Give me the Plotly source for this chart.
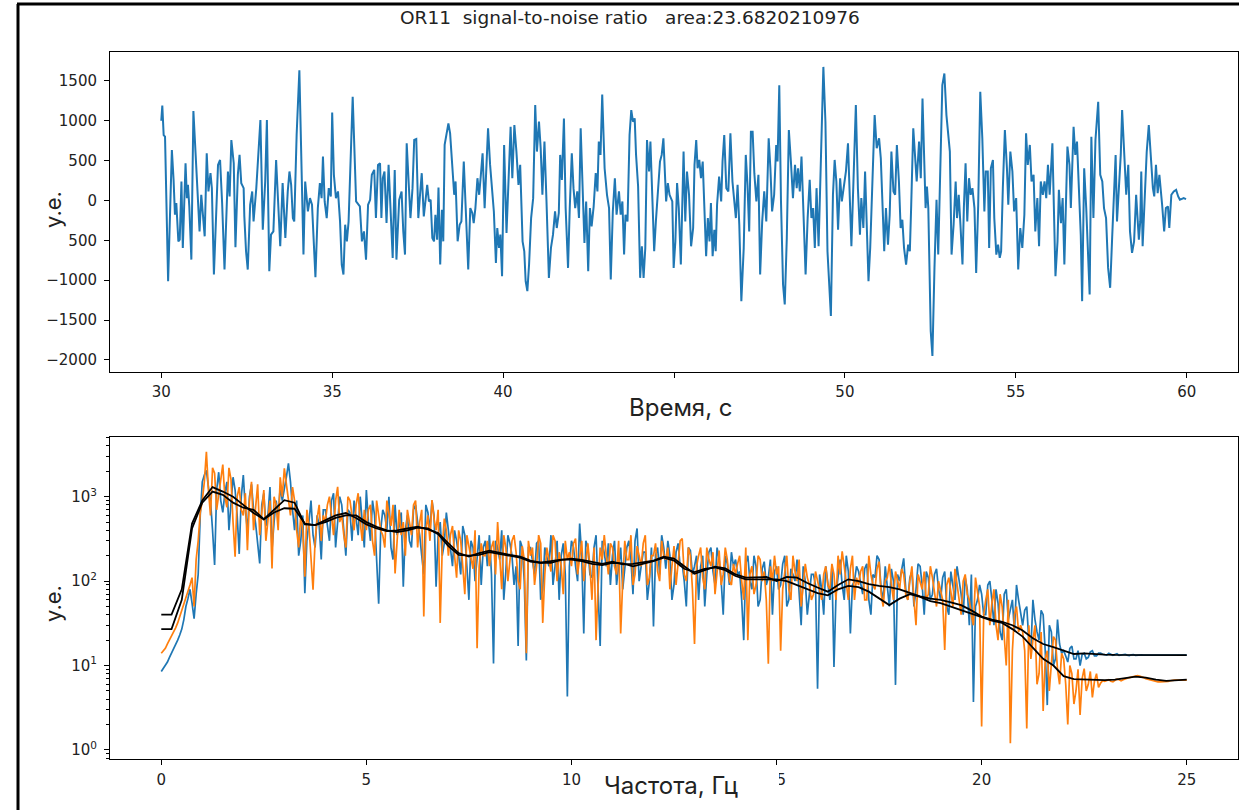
import plotly.graph_objects as go

# ---------------- data: time signal (seconds, units) ----------------
t_sec = [
30.00,30.03,30.07,30.11,30.20,30.31,30.36,30.40,30.44,30.50,30.54,30.59,30.63,30.71,30.75,30.78,30.82,30.88,30.94,31.02,
31.07,31.12,31.17,31.22,31.27,31.33,31.38,31.44,31.48,31.54,31.66,31.72,31.78,31.85,31.95,32.00,32.05,32.12,32.17,32.24,
32.29,32.34,32.41,32.43,32.48,32.53,32.60,32.66,32.70,32.78,32.82,32.90,32.97,33.04,33.09,33.16,33.21,33.28,33.36,33.42,
33.48,33.55,33.63,33.70,33.75,33.80,33.85,33.89,33.96,34.04,34.10,34.16,34.21,34.26,34.29,34.35,34.41,34.51,34.58,34.64,
34.69,34.73,34.78,34.84,34.90,34.96,35.00,35.05,35.11,35.17,35.23,35.28,35.33,35.38,35.43,35.48,35.60,35.70,35.81,35.87,
35.93,35.99,36.05,36.11,36.16,36.23,36.28,36.34,36.40,36.44,36.48,36.53,36.59,36.65,36.71,36.77,36.83,36.88,36.96,37.03,
37.08,37.13,37.18,37.25,37.29,37.35,37.40,37.46,37.52,37.57,37.62,37.68,37.73,37.78,37.83,37.88,37.93,37.98,38.02,38.07,
38.11,38.16,38.21,38.25,38.29,38.35,38.40,38.45,38.51,38.57,38.61,38.67,38.73,38.78,38.85,38.90,38.93,38.98,39.04,39.10,
39.14,39.19,39.25,39.30,39.35,39.40,39.46,39.51,39.56,39.62,39.67,39.73,39.79,39.83,39.88,39.92,39.97,40.03,40.10,40.16,
40.22,40.27,40.33,40.39,40.45,40.50,40.57,40.62,40.66,40.71,40.76,40.82,40.88,40.94,40.99,41.05,41.10,41.15,41.21,41.27,
41.34,41.40,41.46,41.52,41.57,41.63,41.67,41.72,41.78,41.83,41.90,41.95,42.01,42.06,42.11,42.17,42.22,42.27,42.33,42.38,
42.43,42.49,42.54,42.59,42.65,42.71,42.76,42.80,42.85,42.90,42.97,43.04,43.10,43.15,43.21,43.27,43.32,43.39,43.44,43.49,
43.54,43.58,43.64,43.70,43.75,43.80,43.85,43.89,43.95,44.01,44.06,44.11,44.16,44.21,44.27,44.31,44.37,44.42,44.47,44.53,
44.59,44.64,44.69,44.77,44.82,44.87,44.91,44.95,44.99,45.04,45.09,45.14,45.20,45.25,45.28,45.33,45.38,45.44,45.50,45.56,
45.60,45.65,45.69,45.74,45.79,45.84,45.88,45.94,45.99,46.04,46.08,46.13,46.18,46.22,46.26,46.32,46.38,46.42,46.47,46.53,
46.59,46.65,46.71,46.76,46.81,46.86,46.91,46.97,47.04,47.10,47.15,47.20,47.25,47.30,47.35,47.41,47.47,47.52,47.58,47.64,
47.70,47.77,47.82,47.87,47.93,47.99,48.03,48.08,48.13,48.19,48.24,48.30,48.36,48.42,48.48,48.54,48.59,48.63,48.68,48.73,
48.79,48.85,48.91,48.97,49.02,49.07,49.12,49.17,49.23,49.28,49.33,49.37,49.43,49.49,49.59,49.65,49.70,49.75,49.80,49.86,
49.91,49.98,50.03,50.09,50.14,50.19,50.25,50.32,50.38,50.44,50.48,50.54,50.59,50.64,50.69,50.74,50.81,50.87,50.93,51.00,
51.05,51.10,51.15,51.20,51.26,51.31,51.36,51.42,51.47,51.52,51.58,51.63,51.68,51.73,51.79,51.85,51.90,51.94,52.00,52.05,
52.10,52.17,52.22,52.27,52.32,52.36,52.40,52.44,52.51,52.56,52.62,52.68,52.73,52.79,52.85,52.91,52.97,53.07,53.12,53.18,
53.24,53.28,53.33,53.38,53.44,53.48,53.53,53.58,53.63,53.68,53.73,53.79,53.84,53.90,53.96,54.02,54.08,54.12,54.18,54.22,
54.27,54.33,54.37,54.43,54.48,54.53,54.57,54.62,54.68,54.74,54.78,54.84,54.90,54.95,55.01,55.07,55.13,55.19,55.25,55.30,
55.35,55.41,55.46,55.52,55.57,55.63,55.68,55.73,55.79,55.84,55.89,55.94,55.99,56.07,56.11,56.16,56.22,56.26,56.32,56.37,
56.42,56.47,56.51,56.57,56.61,56.69,56.74,56.79,56.84,56.90,56.94,57.00,57.06,57.10,57.16,57.21,57.27,57.33,57.41,57.47,
57.53,57.58,57.64,57.70,57.76,57.82,57.87,57.92,57.96,58.01,58.07,58.11,58.17,58.23,58.29,58.34,58.40,58.46,58.52,58.56,
58.60,58.64,58.67,58.71,58.77,58.83,58.89,58.95,59.01,59.05,59.10,59.15,59.20,59.28,59.34,59.39,59.45,59.49,59.55,59.62,
59.69,59.75,59.80,59.91,59.98]

signal = [
1000,1190,820,800,-1013,633,258,-179,-33,-513,-492,238,-596,467,29,196,-75,-742,1121,383,
-13,-388,71,-221,-450,592,113,342,154,-929,446,508,-33,-867,363,50,758,467,-588,321,
571,217,154,-200,-638,-867,-54,113,-263,154,404,1008,-367,238,1008,-888,-429,-388,508,-96,
-575,217,-471,113,363,196,-221,-263,821,1633,238,-679,238,29,-138,29,-54,-963,-96,217,
29,550,-13,-221,154,50,1104,321,29,113,-263,-804,-929,-304,-513,-263,1300,-13,-75,-513,
-388,-742,-54,8,321,383,-221,446,467,-221,279,363,-284,446,-179,-721,383,-742,8,113,
-388,-679,717,71,-221,154,760,770,-221,71,342,-200,29,196,-13,8,-471,-513,-179,-492,
163,-804,-117,-513,696,821,967,842,404,71,238,-513,-304,-263,488,-138,-513,-867,-96,-158,
-284,-96,279,71,321,592,-96,446,904,446,154,-138,-783,-346,-596,-429,-950,696,-409,238,
925,279,946,613,196,446,-513,-638,-1013,-1138,-804,-221,29,1196,613,988,654,71,738,-13,
-971,-596,-429,-138,-346,-158,571,258,1029,-96,-846,-96,592,154,-96,113,-221,904,71,-533,
-13,-888,-96,-325,-75,342,113,738,571,1329,404,71,-96,-992,-138,279,-179,113,-179,-13,
-679,-179,-263,821,1133,988,1029,571,175,-971,-575,-971,-596,758,363,738,-13,-638,-263,71,
488,571,779,-13,217,71,29,-13,-846,-513,217,-96,-804,154,613,-263,363,71,-575,-346,
446,758,404,508,279,488,-33,-700,-221,-513,-33,-700,-367,-638,-54,300,-13,488,821,154,
113,842,238,29,-221,196,-304,-1263,-596,571,196,-388,863,863,342,-13,321,-929,-263,113,
-263,779,404,-138,71,696,488,1446,-13,-1054,-1305,-471,883,488,29,446,154,404,113,550,
-263,-929,-221,258,-221,-96,-596,154,-575,154,946,1675,988,-638,-1450,71,508,238,-367,279,
-13,196,363,717,-54,-575,238,1196,154,-429,29,-346,363,-284,-1013,-596,196,1071,654,779,
529,-13,-638,-96,-554,-179,613,113,71,696,238,-346,-242,-596,-804,-554,-638,-54,904,571,
238,738,279,1279,571,-96,175,-96,-1638,-1950,-846,8,-679,404,1446,1592,1071,613,-679,-304,
238,-221,71,-304,-804,-96,467,-263,279,71,154,-96,-909,-54,1363,779,-138,363,363,-596,
404,508,-221,-679,-554,-721,-638,154,883,404,-54,613,363,-138,29,-867,-346,-596,-179,842,
446,696,238,321,-388,29,-575,238,71,238,29,446,71,717,-13,-950,-513,133,-284,29,
-804,71,675,446,-96,925,571,738,196,-429,-1263,404,-96,-596,-1180,800,-221,758,1238,321,
238,-96,-221,-846,-1096,-450,-13,571,-263,175,571,1133,529,71,446,-388,-658,-513,71,-179,
-492,-263,363,-575,71,613,946,529,154,50,446,92,321,-54,-388,-96,-75,-346,71,113,
133,50,8,29,17]

# ---------------- data: spectra (0 .. 25 Hz) ----------------
FREQ_STEP = 0.05      # Hz between spectrum samples
SMOOTH_STEP = 0.25    # Hz between smoothed-curve samples

# values at 0.0, 0.1, 0.2 ... 25.0 Hz
blue_even = [
8.5,10,12.5,15.5,20,27,50,80,36,120,
1500,2050,900,155,1950,650,1500,800,1200,210,
1800,400,1400,480,162,1100,600,240,900,1300,
1200,2480,700,900,300,72,500,350,600,180,
700,300,1100,450,800,200,650,900,350,500,
1200,300,600,54,700,400,250,800,450,86,
600,250,800,350,120,650,900,86,500,280,
400,150,300,120,350,60,250,180,90,300,
350,10.6,250,400,130,280,90,17,250,11.5,
250,120,300,80,200,350,150,60,280,4.3,
300,150,480,24,250,110,350,17,200,280,
200,90,250,130,300,70,420,150,220,100,
29,250,350,140,200,90,280,160,50,230,
150,60,200,120,250,90,180,40,160,220,
180,130,20,200,80,150,60,170,110,40,
150,90,200,60,120,180,30,100,70,120,
5.3,80,150,60,9.6,120,90,200,24,100,
130,70,160,40,110,180,60,90,140,5.9,
100,186,60,130,80,150,40,110,70,140,
60,130,40,90,150,70,110,30,3.7,60,
70,40,100,30,55,20,80,45,25,60,
30,50,15,35,20,40,3.4,25,12,18,
15,11,17,12,10,14,12.5,15,13,14,
13.5,14,13.2,13.8,13.4,13.6,13.1,13.5,13.3,13.4,
13.3,13.4,13.2,13.3,13.2,13.3,13.3,13.2,13.3,13.3,
13.3]
# values at 0.05, 0.15 ... 24.95 Hz
blue_odd = [
9.2,11,14,17.5,23,35,62,55,70,600,
1800,1300,400,1200,900,1100,400,1700,600,1000,
700,1000,700,300,800,450,1300,500,600,900,
1700,1500,400,200,600,300,900,250,450,700,
450,900,250,1000,350,700,300,550,1000,250,
500,900,150,400,600,1000,180,350,650,400,
300,700,500,200,800,400,600,350,200,650,
250,400,200,450,150,300,100,350,250,150,
120,300,180,60,350,200,150,300,100,250,
180,280,60,250,150,90,300,200,120,150,
250,100,200,300,120,250,60,300,150,90,
300,150,80,250,180,300,100,220,60,250,
200,120,250,300,60,220,150,100,250,120,
200,150,50,220,130,250,100,200,90,150,
120,60,160,100,200,50,140,90,180,130,
80,160,50,140,100,60,150,40,120,90,
120,40,100,150,70,180,60,130,90,150,
90,140,60,120,200,80,150,50,100,120,
140,80,110,50,160,90,130,60,120,80,
110,50,130,60,100,40,80,120,50,90,
40,90,60,80,25,70,35,60,90,40,
45,20,60,25,45,15,30,10,35,14,
13,16,12,15,13.5,12,14.5,13,14,13.6,
13.3,13.7,13.5,13.2,13.5,13.3,13.4,13.2,13.4,13.3,
13.4,13.3,13.3,13.2,13.3,13.4,13.2,13.3,13.3,13.3]

orange_even = [
14,16,20,25,32,45,60,90,50,300,
900,3400,600,1900,1100,2400,750,1600,195,1300,
600,233,1500,850,350,1200,500,141,800,1700,
2170,800,1300,400,600,113,450,79,550,300,
500,1000,350,1310,600,250,900,400,1100,300,
400,800,200,600,350,900,450,123,700,500,
700,350,900,500,38,600,910,400,32,550,
200,450,110,300,70,250,140,16,280,200,
150,300,500,80,250,180,350,100,260,14,
200,90,350,32,250,130,300,220,70,180,
150,320,200,100,280,60,20,250,350,120,
250,120,24,300,180,90,260,150,350,110,
200,130,300,180,80,260,150,320,100,200,
18,200,110,250,150,70,230,120,180,90,
120,200,60,20,150,90,180,130,10.5,100,
120,15,130,80,200,100,50,160,90,70,
100,60,150,80,120,200,225,90,140,60,
90,150,60,120,80,170,50,110,90,130,
80,120,60,150,30,100,130,70,110,50,
80,15.3,110,50,90,40,120,60,30,70,
1.9,60,30,80,20,50,10,1.2,40,25,
25,1.8,12,30,8,2.9,15,10,20,6,
12,2.0,8,5,2.6,9.2,6,4.2,8,6.2,
6.5,6.8,6.4,6.9,6.6,7.0,7.2,7.5,7.6,7.4,
7.0,6.8,6.5,6.4,6.4,6.5,6.6,6.7,6.7,6.6,
6.7]
orange_odd = [
15,18,22,28,38,52,75,110,180,650,
1500,1200,2200,700,1700,1000,2200,500,1000,700,
1100,900,400,1400,700,300,900,1000,400,1000,
1400,600,900,250,400,700,200,300,800,600,
800,600,900,500,350,1000,600,800,500,700,
700,300,900,400,250,600,800,300,350,200,
500,800,250,700,400,300,550,700,250,400,
350,200,400,150,350,180,400,150,200,300,
250,120,200,350,100,300,220,80,180,300,
250,150,280,120,180,350,100,150,300,220,
280,120,300,180,150,250,90,180,200,280,
150,300,100,180,350,120,200,280,90,200,
280,100,200,250,150,90,300,120,250,80,
150,250,80,180,220,120,90,250,100,160,
160,100,250,120,70,200,100,60,150,200,
150,80,200,60,130,180,90,110,60,130,
80,120,90,160,60,120,150,60,200,110,
130,60,200,90,140,70,100,160,60,100,
140,70,100,60,120,80,60,150,70,100,
60,90,70,140,60,100,70,40,110,50,
40,80,55,30,70,20,60,15,50,30,
15,30,20,6,25,12,5,22,9,14,
6,10,3.5,9,7,5,8.5,6.5,5.5,6.6,
6.6,6.5,6.7,6.8,6.8,7.1,7.3,7.6,7.5,7.2,
6.9,6.6,6.4,6.4,6.5,6.5,6.7,6.7,6.6,6.7]

smooth_blue = [
40,40,80,480,
900,1300,1150,1000,
800,640,540,700,
910,850,470,460,
520,600,640,560,
470,420,390,400,
420,440,410,370,
280,215,195,215,
230,215,205,195,
175,165,165,178,
185,178,168,160,
170,158,160,168,
175,195,185,150,
122,135,148,142,
120,110,110,112,
100,112,110,95,
84,75,90,105,
100,92,88,85,
80,72,66,62,
60,56,52,45,
38,35,33,30,
26,21,18,16.5,
15,13.7,13.9,13.6,
13.5,13.4,13.4,13.3,
13.3,13.3,13.3,13.3,
13.3]

smooth_orange = [
27,27,60,420,
850,1150,1050,850,
740,700,540,650,
730,720,480,460,
500,560,600,600,
500,440,400,380,
400,430,420,360,
260,205,200,205,
220,210,200,190,
170,165,172,180,
180,172,160,155,
165,162,150,160,
172,190,175,140,
128,140,145,135,
115,105,105,105,
105,100,90,80,
72,68,80,88,
85,75,62,52,
62,70,65,58,
55,50,46,42,
38,34,32,27,
22,16,12,10,
7.5,6.9,6.8,6.7,
6.7,6.8,7.1,7.4,
7.2,6.8,6.6,6.7,
6.8]

time_ticks = [30, 35, 40, 45, 50, 55, 60]
amp_ticks = [-2000, -1500, -1000, -500, 0, 500, 1000, 1500]
freq_ticks = [0, 5, 10, 15, 20, 25]
log_ticks = [1, 10, 100, 1000]
log_tick_text = ["10<sup>0</sup>", "10<sup>1</sup>", "10<sup>2</sup>", "10<sup>3</sup>"]

TITLE = "OR11\u00a0\u00a0signal-to-noise ratio\u00a0\u00a0\u00a0area:23.6820210976"


def merge(even, odd):
    out = []
    for i, v in enumerate(even):
        out.append(v)
        if i < len(odd):
            out.append(odd[i])
    return out


spec_blue = merge(blue_even, blue_odd)
spec_orange = merge(orange_even, orange_odd)
freq = [round(i * FREQ_STEP, 3) for i in range(len(spec_blue))]
freq_o = [round(i * FREQ_STEP, 3) for i in range(len(spec_orange))]
freq_s = [round(i * SMOOTH_STEP, 3) for i in range(len(smooth_blue))]

# ---------------- figure ----------------
W, H = 1239, 810
BLUE, ORANGE = "#1f77b4", "#ff7f0e"


def fx(px):
    return px / W


def fy(py):
    return 1 - py / H


fig = go.Figure()
fig.add_trace(go.Scatter(x=t_sec, y=signal, mode="lines",
                         line=dict(color=BLUE, width=2), xaxis="x", yaxis="y"))
fig.add_trace(go.Scatter(x=freq, y=spec_blue, mode="lines",
                         line=dict(color=BLUE, width=1.7), xaxis="x2", yaxis="y2"))
fig.add_trace(go.Scatter(x=freq_o, y=spec_orange, mode="lines",
                         line=dict(color=ORANGE, width=1.7), xaxis="x2", yaxis="y2"))
fig.add_trace(go.Scatter(x=freq_s, y=smooth_blue, mode="lines",
                         line=dict(color="black", width=1.8), xaxis="x2", yaxis="y2"))
fig.add_trace(go.Scatter(x=freq_s, y=smooth_orange, mode="lines",
                         line=dict(color="black", width=1.8), xaxis="x2", yaxis="y2"))

tickfont = dict(family="DejaVu Sans", size=15, color="#222222")
common = dict(showline=True, mirror=True, linecolor="black", linewidth=1,
              ticks="outside", ticklen=5, tickwidth=1, tickcolor="black",
              showgrid=False, zeroline=False, tickfont=tickfont)

minor_vals = [m * 10 ** e for e in range(-1, 4) for m in range(2, 10)]

fig.update_layout(
    width=W, height=H, margin=dict(l=0, r=0, t=0, b=0),
    paper_bgcolor="white", plot_bgcolor="white", showlegend=False,
    xaxis=dict(domain=[fx(110), fx(1238)], anchor="y", range=[28.5, 61.5],
               tickmode="array", tickvals=time_ticks, ticklabelstandoff=1,
               ticktext=[str(v) for v in time_ticks], **common),
    yaxis=dict(domain=[fy(372), fy(52)], anchor="x", range=[-2152, 1862],
               tickmode="array", tickvals=amp_ticks, ticklabelstandoff=4,
               ticktext=[str(v).replace("-", "\u2212") for v in amp_ticks], **common),
    xaxis2=dict(domain=[fx(110), fx(1238)], anchor="y2", range=[-1.25, 26.25],
                tickmode="array", tickvals=freq_ticks, ticklabelstandoff=2,
                ticktext=[str(v) for v in freq_ticks], **common),
    yaxis2=dict(domain=[fy(759), fy(437)], anchor="x2", type="log",
                range=[-0.107, 3.707], tickmode="array", tickvals=log_ticks,
                ticktext=log_tick_text, ticklabelstandoff=4,
                minor=dict(ticks="outside", ticklen=3, tickwidth=0.8, tickcolor="black",
                           tickmode="array", tickvals=minor_vals, showgrid=False),
                **common),
)

# white patches that sit over the tick labels, as in the original
patches = [(35, 170, 69, 252), (600, 384, 760, 428), (590, 766, 779, 806)]
for x0, y0, x1, y1 in patches:
    fig.add_shape(type="rect", xref="paper", yref="paper", layer="above",
                  x0=fx(x0), x1=fx(x1), y0=fy(y1), y1=fy(y0),
                  fillcolor="white", line=dict(width=0))

# figure border (left and top)
fig.add_shape(type="line", xref="paper", yref="paper", x0=fx(18), x1=fx(18),
              y0=0, y1=fy(4), line=dict(color="black", width=3), layer="above")
fig.add_shape(type="line", xref="paper", yref="paper", x0=fx(17), x1=1,
              y0=fy(4), y1=fy(4), line=dict(color="black", width=3), layer="above")

label_font = dict(family="Inter", size=24, color="#222222")
annotations = [
    dict(text=TITLE, x=fx(630), y=fy(17), font=dict(family="DejaVu Sans", size=18.5, color="#222222")),
    dict(text="у.е.", x=fx(53), y=fy(210), textangle=-90, font=dict(family="Inter", size=22, color="#222222")),
    dict(text="Время, с", x=fx(681), y=fy(408), font=label_font),
    dict(text="у.е.", x=fx(53), y=fy(604), textangle=-90, font=dict(family="Inter", size=22, color="#222222")),
    dict(text="Частота, Гц", x=fx(671), y=fy(785), font=label_font),
]
for a in annotations:
    fig.add_annotation(xref="paper", yref="paper", showarrow=False,
                       xanchor="center", yanchor="middle", **a)

fig.write_html("out.html")
